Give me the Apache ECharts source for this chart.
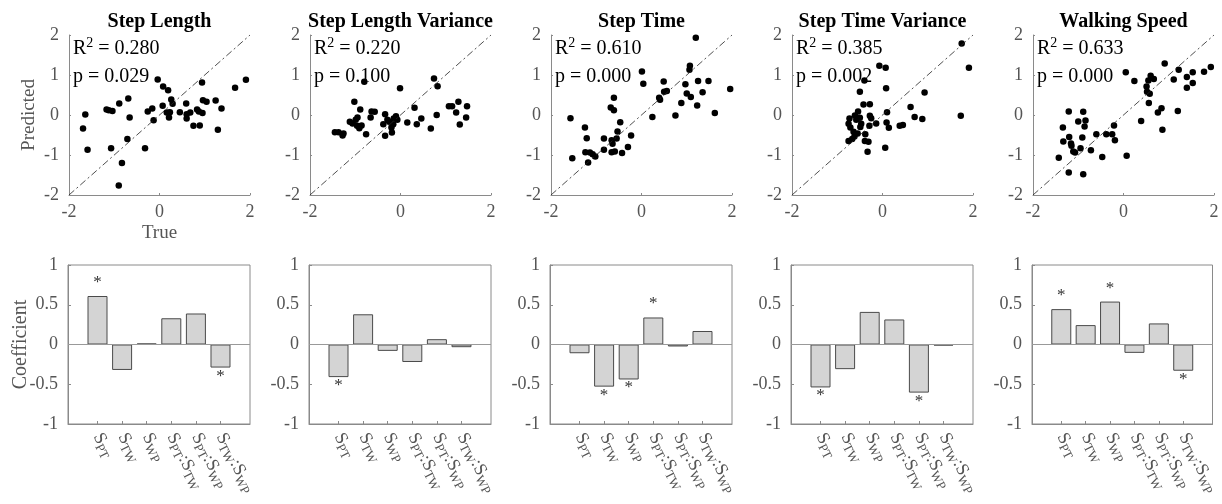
<!DOCTYPE html>
<html>
<head>
<meta charset="utf-8">
<script src="https://cdn.jsdelivr.net/npm/echarts@6/dist/echarts.min.js"></script>
<style>
  html, body { margin: 0; background: #fff; }
  #chart { width: 1222px; height: 504px; }
</style>
</head>
<body>
<div id="chart"></div>
<script>
// Five outcome measures: predicted vs true (top row) and regression
// coefficients of the six terms (bottom row).

const titles = ["Step Length", "Step Length Variance", "Step Time", "Step Time Variance", "Walking Speed"];
const r2 = ["0.280", "0.220", "0.610", "0.385", "0.633"];
const pval = ["0.029", "0.100", "0.000", "0.002", "0.000"];

const diag = [-2, 2]; // identity line ends

const ptsStepLength = [
  [-1.64, 0.01], [-1.69, -0.34], [-1.59, -0.87], [-1.17, 0.14], [-1.12, 0.12], [-1.04, 0.10],
  [-1.07, -0.83], [-0.89, 0.29], [-0.90, -1.76], [-0.83, -1.20], [-0.69, 0.41], [-0.66, -0.06],
  [-0.71, -0.60], [-0.32, -0.83], [-0.26, 0.09], [-0.16, 0.16], [-0.13, -0.13], [-0.04, 0.89],
  [0.08, 0.71], [0.19, 0.62], [0.07, 0.23], [0.16, 0.06], [0.21, -0.06], [0.23, 0.07],
  [0.26, 0.39], [0.29, 0.28], [0.45, 0.07], [0.59, 0.29], [0.60, 0.02], [0.60, -0.09],
  [0.68, 0.06], [0.75, -0.27], [0.83, 0.14], [0.87, 0.09], [0.89, -0.26], [0.94, 0.81],
  [0.95, 0.05], [0.96, 0.37], [1.04, 0.33], [1.24, 0.36], [1.29, -0.37], [1.37, 0.16],
  [1.67, 0.68], [1.91, 0.88],
];
const ptsStepLengthVar = [
  [-1.45, -0.43], [-1.37, -0.43], [-1.26, -0.46], [-1.28, -0.51], [-1.02, 0.33], [-0.80, 0.83],
  [-0.89, 0.14], [-1.12, -0.17], [-1.06, -0.21], [-0.99, -0.12], [-0.95, -0.06], [-0.96, -0.27],
  [-0.91, -0.33], [-0.86, -0.26], [-0.76, -0.48], [-0.64, 0.09], [-0.57, 0.08], [-0.66, -0.06],
  [-0.34, 0.02], [-0.38, -0.23], [-0.34, -0.52], [-0.29, -0.12], [-0.25, -0.17], [-0.20, -0.31],
  [-0.19, -0.44], [-0.16, -0.23], [-0.10, -0.03], [-0.07, -0.12], [-0.15, -0.09], [-0.01, 0.67],
  [0.15, -0.19], [0.31, 0.18], [0.36, -0.23], [0.46, -0.09], [0.67, -0.34], [0.74, 0.91],
  [0.82, 0.72], [0.80, 0.00], [1.07, 0.22], [1.14, 0.22], [1.28, 0.33], [1.23, 0.06],
  [1.31, -0.24], [1.47, 0.22], [1.45, -0.06],
];
const ptsStepTime = [
  [-1.57, -0.08], [-1.53, -1.08], [-1.25, -0.31], [-1.21, -0.58], [-1.24, -0.93], [-1.18, -1.19],
  [-1.14, -0.94], [-1.08, -0.98], [-1.02, -1.04], [-0.83, -0.59], [-0.83, -0.87], [-0.68, 0.19],
  [-0.61, 0.12], [-0.61, 0.43], [-0.66, -0.63], [-0.64, -0.72], [-0.66, -0.93], [-0.59, -0.91],
  [-0.55, -0.59], [-0.53, -0.41], [-0.47, -0.18], [-0.43, -0.95], [-0.30, -0.80], [-0.23, -0.51],
  [0.01, 1.09], [0.04, 0.78], [0.24, -0.05], [0.39, 0.43], [0.41, 0.38], [0.49, 0.84],
  [0.50, 0.58], [0.56, 0.60], [0.75, -0.01], [0.88, 0.30], [0.97, 0.77], [1.00, 0.54],
  [1.06, 1.13], [1.07, 1.23], [1.09, 0.45], [1.20, 1.93], [1.23, 0.24], [1.25, 0.85],
  [1.35, 0.57], [1.48, 0.85], [1.62, 0.05], [1.96, 0.65],
];
const ptsStepTimeVar = [
  [-0.73, -0.09], [-0.75, -0.22], [-0.71, -0.31], [-0.75, -0.65], [-0.67, -0.60], [-0.64, -0.42],
  [-0.61, -0.01], [-0.58, -0.12], [-0.62, -0.54], [-0.55, -0.46], [-0.54, 0.09], [-0.50, 0.58],
  [-0.50, -0.07], [-0.47, -0.22], [-0.49, -0.30], [-0.42, 0.26], [-0.40, 0.86], [-0.38, -0.48],
  [-0.39, -0.65], [-0.33, -0.92], [-0.31, -0.67], [-0.28, 0.27], [-0.28, -0.02], [-0.25, -0.08],
  [-0.29, -0.27], [-0.14, -0.21], [-0.07, 1.23], [0.07, 1.18], [0.08, 0.67], [0.10, 0.07],
  [0.09, -0.19], [0.14, -0.32], [0.06, -0.82], [0.38, -0.27], [0.45, -0.25], [0.62, 0.20],
  [0.71, -0.05], [0.88, -0.10], [0.93, 0.56], [1.73, -0.02], [1.75, 1.79], [1.91, 1.18],
];
const ptsWalkingSpeed = [
  [-1.43, -1.07], [-1.34, -0.31], [-1.33, -0.66], [-1.21, 0.09], [-1.20, -0.55], [-1.21, -1.44],
  [-1.16, -0.71], [-1.15, -0.77], [-1.11, -0.91], [-1.07, -0.94], [-1.00, -0.16], [-0.95, -0.83],
  [-0.89, 0.08], [-0.91, -0.56], [-0.89, -1.48], [-0.84, -0.14], [-0.86, -0.29], [-0.72, -0.88],
  [-0.60, -0.48], [-0.47, -1.05], [-0.38, -0.48], [-0.25, -0.48], [-0.21, -0.26], [-0.19, -0.63],
  [0.05, 1.07], [0.07, -1.02], [0.24, 0.85], [0.39, -0.15], [0.51, 0.71], [0.52, 0.58],
  [0.55, 0.86], [0.58, 0.53], [0.56, 0.30], [0.60, 0.98], [0.67, 0.90], [0.76, 0.06],
  [0.84, 0.17], [0.86, -0.37], [0.91, 1.29], [1.11, 0.89], [1.20, 0.10], [1.22, 1.13],
  [1.40, 0.95], [1.40, 0.68], [1.53, 1.07], [1.53, 0.80], [1.78, 1.08], [1.93, 1.20],
];
const scatters = [ptsStepLength, ptsStepLengthVar, ptsStepTime, ptsStepTimeVar, ptsWalkingSpeed];

// coefficients for S_PT, S_TW, S_WP, S_PT:S_TW, S_PT:S_WP, S_TW:S_WP
const termLabels = [
  "{s|S}{b|PT}", "{s|S}{b|TW}", "{s|S}{b|WP}",
  "{s|S}{b|PT}{s|:S}{b|TW}", "{s|S}{b|PT}{s|:S}{b|WP}", "{s|S}{b|TW}{s|:S}{b|WP}",
];
const coefStepLength    = [0.61, -0.32, 0.013, 0.33, 0.39, -0.29];
const coefStepLengthVar = [-0.41, 0.38, -0.08, -0.22, 0.067, -0.034];
const coefStepTime      = [-0.11, -0.53, -0.44, 0.34, -0.025, 0.17];
const coefStepTimeVar   = [-0.54, -0.31, 0.41, 0.315, -0.605, -0.013];
const coefWalkingSpeed  = [0.445, 0.244, 0.54, -0.105, 0.265, -0.33];
const coefs = [coefStepLength, coefStepLengthVar, coefStepTime, coefStepTimeVar, coefWalkingSpeed];
// significant terms (1-based), marked with *
const sigTerms = [[1, 6], [1], [2, 3, 4], [1, 5], [1, 3, 6]];

const FONT = "'Liberation Serif', 'Times New Roman', serif";
const AX = "#8a8a8a", TXT = "#555";
const PW = 181, STEP = 241, X0 = 69;

const grids = [], xAxes = [], yAxes = [], series = [], graphics = [];

for (let i = 0; i < 5; i++) {
  const left = X0 + STEP * i;
  // --- top: scatter
  grids.push({ left, top: 35, width: PW, height: 160 });
  xAxes.push({
    gridIndex: grids.length - 1, type: "value", min: -2, max: 2, interval: 2,
    axisLine: { onZero: false, lineStyle: { color: AX } },
    axisTick: { inside: true, length: 2, lineStyle: { color: AX } },
    splitLine: { show: false },
    axisLabel: { color: TXT, fontFamily: FONT, fontSize: 18, margin: 8 },
    name: i === 0 ? "True" : "", nameLocation: "middle", nameGap: 29, nameMoveOverlap: false,
    nameTextStyle: { color: TXT, fontFamily: FONT, fontSize: 19 },
  });
  yAxes.push({
    gridIndex: grids.length - 1, type: "value", min: -2, max: 2, interval: 1,
    axisLine: { show: true, onZero: false, lineStyle: { color: AX } },
    axisTick: { show: true, inside: true, length: 2, lineStyle: { color: AX } },
    splitLine: { show: false },
    axisLabel: { color: TXT, fontFamily: FONT, fontSize: 18, margin: 10 },
    name: i === 0 ? "Predicted" : "", nameLocation: "middle", nameGap: 30, nameMoveOverlap: false,
    nameTextStyle: { color: TXT, fontFamily: FONT, fontSize: 19 },
  });
  const si = xAxes.length - 1;
  series.push({
    type: "line", xAxisIndex: si, yAxisIndex: si, data: [[diag[0], diag[0]], [diag[1], diag[1]]],
    symbol: "none", silent: true, lineStyle: { color: "#222", width: 0.8, type: [7, 3, 2, 3] },
  });
  series.push({
    type: "scatter", xAxisIndex: si, yAxisIndex: si, data: scatters[i],
    symbolSize: 6.5, itemStyle: { color: "#000", opacity: 1 },
  });

  // --- bottom: coefficients
  grids.push({ left: left - 1, top: 265, width: PW + 1, height: 159, show: true, borderColor: AX, borderWidth: 1 });
  xAxes.push({
    gridIndex: grids.length - 1, type: "value", min: -0.2, max: 7.2,
    axisLine: { onZero: false, lineStyle: { color: AX } }, splitLine: { show: false },
    axisTick: { inside: true, length: 3, lineStyle: { color: AX }, customValues: [1, 2, 3, 4, 5, 6] },
    axisLabel: {
      customValues: [1, 2, 3, 4, 5, 6], rotate: -63, margin: 10,
      formatter: (v) => termLabels[Math.round(v) - 1],
      rich: {
        s: { fontFamily: FONT, fontSize: 18, color: TXT, lineHeight: 22, verticalAlign: "middle" },
        b: { fontFamily: FONT, fontSize: 13, color: TXT, lineHeight: 14, verticalAlign: "bottom" },
      },
    },
  });
  yAxes.push({
    gridIndex: grids.length - 1, type: "value", min: -1, max: 1, interval: 0.5,
    axisLine: { show: true, onZero: false, lineStyle: { color: AX } },
    axisTick: { show: true, inside: true, length: 3, lineStyle: { color: AX } },
    splitLine: { show: false },
    axisLabel: { color: TXT, fontFamily: FONT, fontSize: 18, margin: 10 },
    name: i === 0 ? "Coefficient" : "", nameLocation: "middle", nameGap: 37, nameMoveOverlap: false,
    nameTextStyle: { color: TXT, fontFamily: FONT, fontSize: 20 },
  });
  const bi = xAxes.length - 1;
  const sig = sigTerms[i];
  series.push({
    type: "bar", xAxisIndex: bi, yAxisIndex: bi, barWidth: 20,
    data: coefs[i].map((v, k) => ({
      value: [k + 1, v],
      label: {
        show: sig.includes(k + 1), position: v >= 0 ? "top" : "bottom", distance: v >= 0 ? 5 : 0,
      },
    })),
    itemStyle: { color: "#d4d4d4", borderColor: "#4a4a4a", borderWidth: 1 },
    label: { formatter: "*", fontFamily: FONT, fontSize: 17, color: "#333" },
    markLine: {
      silent: true, symbol: "none", data: [{ yAxis: 0 }],
      lineStyle: { color: "#999", width: 1, type: "solid" }, label: { show: false },
    },
  });

  // titles and fit stats
  graphics.push({
    type: "text", x: left + PW / 2, y: 22,
    style: { text: titles[i], font: `bold 20px ${FONT}`, fill: "#000", align: "center", verticalAlign: "middle" },
  });
  graphics.push({
    type: "text", x: left + 4, y: 49,
    style: {
      text: `{n|R}{sup|2}{n| = ${r2[i]}}`, verticalAlign: "middle",
      rich: {
        n: { fontFamily: FONT, fontSize: 20, fill: "#000", lineHeight: 26, verticalAlign: "middle" },
        sup: { fontFamily: FONT, fontSize: 14, fill: "#000", lineHeight: 14, verticalAlign: "top" },
      },
    },
  });
  graphics.push({
    type: "text", x: left + 4, y: 77,
    style: { text: `p = ${pval[i]}`, font: `20px ${FONT}`, fill: "#000", verticalAlign: "middle" },
  });
}

const chart = echarts.init(document.getElementById("chart"));
chart.setOption({
  animation: false,
  grid: grids, xAxis: xAxes, yAxis: yAxes, series, graphic: graphics,
});
</script>
</body>
</html>
